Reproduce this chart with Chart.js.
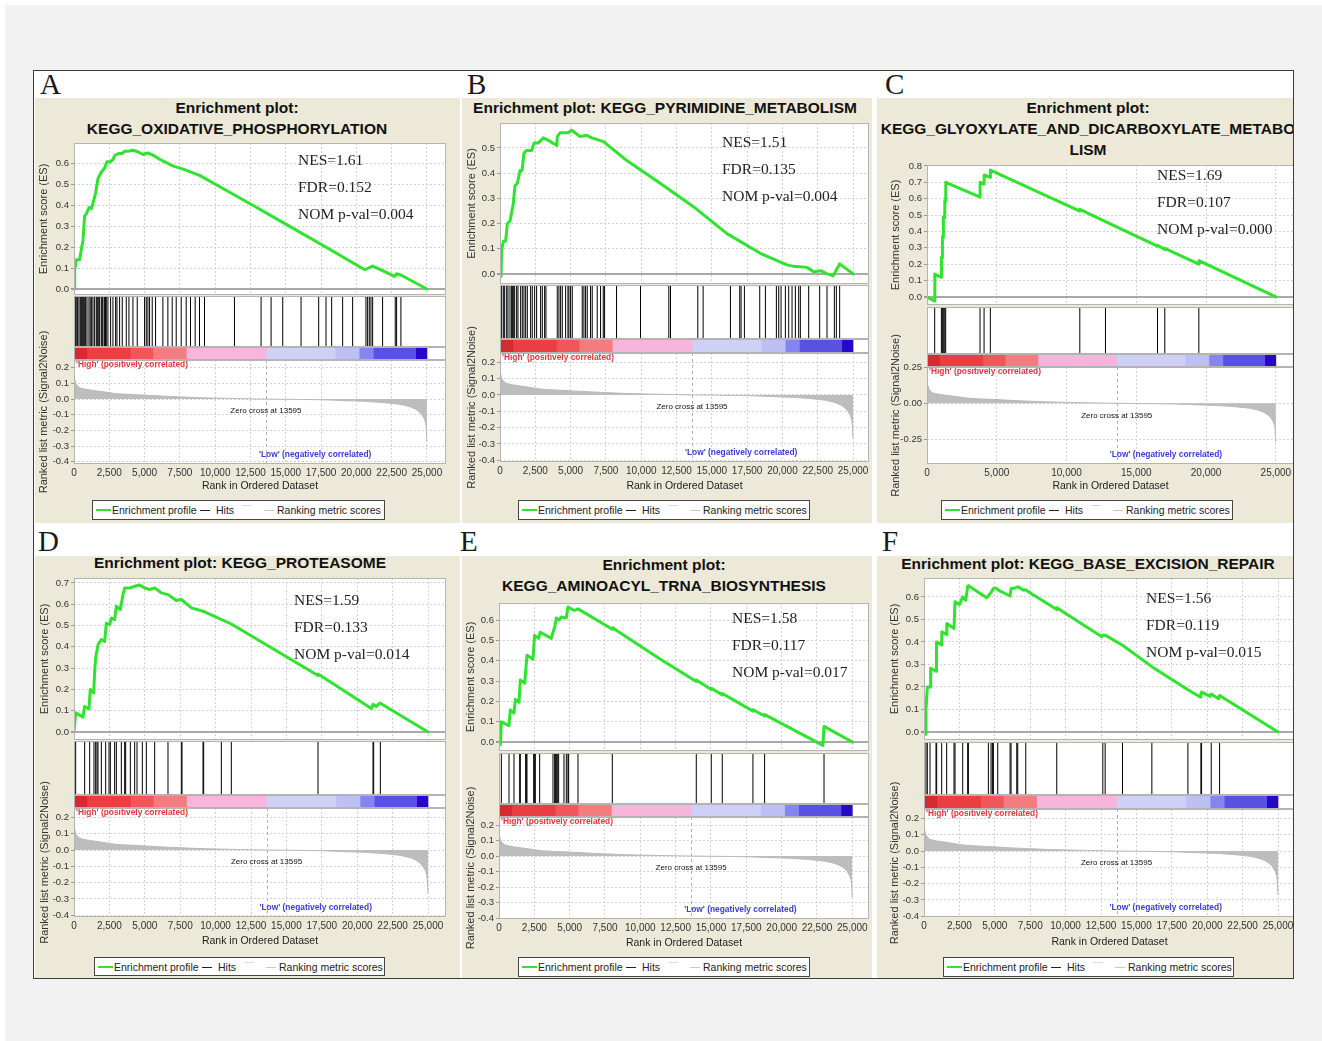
<!DOCTYPE html>
<html>
<head>
<meta charset="utf-8">
<title>GSEA enrichment plots</title>
<script src="https://cdn.jsdelivr.net/npm/chart.js@4.4.1/dist/chart.umd.min.js"></script>
<style>
  html, body { margin: 0; padding: 0; }
  body { width: 1322px; height: 1041px; position: relative; overflow: hidden; background: #fff;
         font-family: "Liberation Sans", Arial, sans-serif; }
  #sheet { position: absolute; left: 5px; top: 5px; width: 1317px; height: 1036px; background: #f2f2f2; }
  #figure { position: absolute; left: 33px; top: 70px; width: 1259px; height: 907px; border: 1px solid #3c3c3c; background: #fff; }
  .letter { position: absolute; font-family: "Liberation Serif", "Times New Roman", serif; font-size: 29px; line-height: 29px; color: #1a1a1a; }
  .panel { position: absolute; background: #ece9d8; overflow: hidden; }
  .panel canvas { position: absolute; }
  .ptitle { position: absolute; transform: translateX(-50%); white-space: nowrap; font-weight: bold; font-size: 15.5px; line-height: 21px; color: #111; }
  .stat { position: absolute; white-space: nowrap; font-family: "Liberation Serif", "Times New Roman", serif; font-size: 15.5px; line-height: 18px; color: #222; }
  .legend { position: absolute; box-sizing: border-box; border: 1px solid #444; background: #fff; font-size: 10.5px; color: #222; }
  .legend span { position: absolute; top: 50%; transform: translateY(-50%); white-space: nowrap; line-height: 12px; }
  .legend i { position: absolute; top: 50%; display: block; }
</style>
</head>
<body>
<div id="sheet"></div>
<div id="figure"></div>
<script>
// ---- data ----

// ranked list metric (the same ranked list in every panel)
const metricRank  = [0, 50, 165, 400, 870, 1820, 3000, 4170, 6530, 8890, 11250, 13595, 17380, 19500, 20680, 21860, 23040, 23750, 24220, 24570, 24800, 24920, 25000];
const metricValue = [0.154, 0.127, 0.095, 0.073, 0.062, 0.05, 0.035, 0.029, 0.018, 0.009, 0.004, 0, -0.004, -0.011, -0.015, -0.022, -0.033, -0.048, -0.066, -0.092, -0.125, -0.158, -0.268];
const zeroCross = 13595;

// colour bar boundaries (ranks)
const barEdges = [0, 900, 4000, 5600, 7950, 13595, 18500, 20200, 21200, 24200, 25000];

// tick labels
const xTicks2500 = [0, 2500, 5000, 7500, 10000, 12500, 15000, 17500, 20000, 22500, 25000];
const xTicks5000 = [0, 5000, 10000, 15000, 20000, 25000];
const esTicks05 = [0, 0.1, 0.2, 0.3, 0.4, 0.5];
const esTicks06 = [0, 0.1, 0.2, 0.3, 0.4, 0.5, 0.6];
const esTicks07 = [0, 0.1, 0.2, 0.3, 0.4, 0.5, 0.6, 0.7];
const esTicks08 = [0, 0.1, 0.2, 0.3, 0.4, 0.5, 0.6, 0.7, 0.8];
const metricTicks = [0.2, 0.1, 0, -0.1, -0.2, -0.3, -0.4];
const metricTicksC = [0.25, 0, -0.25];

// A - KEGG_OXIDATIVE_PHOSPHORYLATION
const esRankA  = [0, 47, 165, 400, 520, 640, 750, 870, 1060, 1230, 1340, 1530, 1700, 1930, 2170, 2330, 2570, 2760, 2880, 3180, 3420, 3580, 3940, 4170, 4530, 4880, 5230, 5590, 6060, 7000, 7830, 8890, 10080, 12690, 15280, 17860, 20600, 21150, 21860, 22700, 22850, 23150, 25000];
const esScoreA = [0, 0.09, 0.14, 0.14, 0.19, 0.235, 0.35, 0.36, 0.39, 0.385, 0.41, 0.46, 0.53, 0.56, 0.58, 0.61, 0.61, 0.62, 0.64, 0.65, 0.65, 0.66, 0.662, 0.665, 0.658, 0.645, 0.652, 0.642, 0.622, 0.59, 0.572, 0.545, 0.5, 0.4, 0.3, 0.2, 0.092, 0.11, 0.088, 0.06, 0.073, 0.067, 0];
const hitsA = [118, 200, 260, 354, 448, 520, 590, 684, 760, 825, 920, 1061, 1150, 1250, 1344, 1462, 1580, 1650, 1721, 1816, 1934, 2000, 2052, 2169, 2230, 2287, 2405, 2594, 2759, 2948, 3042, 3231, 3419, 3702, 3891, 4174, 4480, 4999, 5117, 5235, 5353, 5541, 5777, 6296, 6650, 6957, 7240, 7593, 7947, 8253, 8583, 8890, 9244, 11366, 13252, 13960, 14785, 16082, 17332, 17850, 18251, 19029, 19737, 20680, 20798, 20916, 21034, 21152, 21859, 22755, 22850, 23156];

// B - KEGG_PYRIMIDINE_METABOLISM
const esRankB  = [0, 70, 118, 236, 400, 520, 710, 945, 1060, 1230, 1420, 1560, 1700, 1890, 2245, 2410, 2720, 3070, 3430, 4020, 4060, 4250, 4840, 5080, 5320, 5670, 6140, 6500, 7330, 8980, 11340, 13700, 16070, 18430, 20320, 20800, 21740, 22210, 22690, 23160, 23580, 23750, 24050, 25000];
const esScoreB = [0, -0.01, 0.095, 0.13, 0.13, 0.2, 0.21, 0.28, 0.35, 0.36, 0.41, 0.41, 0.48, 0.49, 0.49, 0.52, 0.52, 0.54, 0.53, 0.51, 0.545, 0.56, 0.56, 0.57, 0.56, 0.545, 0.55, 0.54, 0.525, 0.45, 0.36, 0.267, 0.16, 0.082, 0.036, 0.03, 0.026, 0.009, 0.013, 0, -0.008, 0.009, 0.04, 0];
const hitsB = [118, 236, 330, 472, 566, 708, 825, 872, 943, 1038, 1179, 1273, 1462, 1580, 1698, 1816, 1934, 2169, 2287, 2452, 2594, 2877, 2995, 3160, 3254, 4055, 4174, 4292, 4410, 4646, 4811, 4881, 5000, 5117, 5824, 5942, 6060, 6178, 6414, 6532, 6886, 7122, 7311, 7405, 8253, 9951, 11955, 12073, 14007, 14384, 16318, 16978, 17072, 17308, 18393, 18794, 19572, 19737, 19902, 20209, 20445, 20680, 20916, 21152, 21270, 21859, 22637, 23156, 23675, 23817, 24053];

// C - KEGG_GLYOXYLATE_AND_DICARBOXYLATE_METABOLISM
const esRankC  = [0, 550, 560, 1030, 1035, 1100, 1105, 1170, 1175, 1270, 1275, 1340, 1345, 3800, 3805, 4090, 4095, 4540, 4545, 10950, 10955, 12790, 16520, 16525, 17040, 17045, 19480, 19485, 25000];
const esScoreC = [0, -0.025, 0.14, 0.12, 0.245, 0.24, 0.37, 0.365, 0.49, 0.485, 0.59, 0.585, 0.70, 0.61, 0.70, 0.69, 0.745, 0.73, 0.775, 0.525, 0.535, 0.46, 0.31, 0.315, 0.29, 0.297, 0.2, 0.222, 0];
const hitsC = [550, 1030, 1100, 1170, 1270, 1340, 3800, 4090, 4540, 10950, 12790, 16520, 17040, 19480];

// D - KEGG_PROTEASOME
const esRankD  = [0, 118, 635, 750, 1060, 1150, 1390, 1460, 1530, 1700, 1930, 2170, 2280, 2520, 2640, 2870, 2990, 3270, 3460, 3580, 3930, 4280, 4640, 4990, 5340, 5700, 6170, 6640, 7230, 7580, 8290, 9110, 11111, 17231, 17240, 21000, 21120, 21350, 21600, 25000];
const esScoreD = [0, 0.09, 0.07, 0.12, 0.108, 0.2, 0.183, 0.285, 0.35, 0.41, 0.434, 0.425, 0.51, 0.505, 0.535, 0.528, 0.59, 0.575, 0.645, 0.676, 0.676, 0.684, 0.69, 0.676, 0.669, 0.676, 0.653, 0.645, 0.617, 0.622, 0.583, 0.567, 0.507, 0.265, 0.272, 0.11, 0.13, 0.12, 0.136, 0];
const hitsD = [118, 753, 1106, 1412, 1530, 1624, 1695, 1930, 2236, 2472, 2566, 2872, 2990, 3343, 3578, 3649, 3978, 4284, 4449, 4826, 5108, 5696, 6638, 7580, 7627, 9110, 9157, 10405, 11111, 17231, 21116, 21163, 21634];

// E - KEGG_AMINOACYL_TRNA_BIOSYNTHESIS
const esRankE  = [0, 95, 165, 707, 800, 1061, 1155, 1415, 1509, 1815, 1885, 1980, 2400, 2520, 2800, 2920, 3700, 3820, 3940, 4055, 4240, 4410, 4760, 4880, 5350, 5590, 8017, 8025, 11370, 13959, 13965, 15020, 15025, 15798, 15805, 17968, 17975, 18793, 18800, 22920, 22998, 25000];
const esScoreE = [0, -0.013, 0.1, 0.08, 0.158, 0.142, 0.21, 0.196, 0.305, 0.29, 0.346, 0.427, 0.408, 0.525, 0.51, 0.54, 0.51, 0.54, 0.566, 0.61, 0.6, 0.615, 0.61, 0.664, 0.647, 0.655, 0.555, 0.562, 0.41, 0.298, 0.305, 0.258, 0.265, 0.232, 0.239, 0.152, 0.159, 0.128, 0.135, -0.016, 0.077, 0];
const hitsE = [165, 707, 1061, 1462, 1509, 1886, 1933, 1980, 2452, 2523, 2570, 2877, 3820, 3938, 4009, 4055, 4126, 4220, 4598, 4763, 4881, 4929, 5588, 8017, 13959, 15020, 15798, 17968, 18793, 22998];

// F - KEGG_BASE_EXCISION_REPAIR
const esRankF  = [0, 118, 141, 236, 424, 470, 848, 870, 895, 1249, 1260, 1600, 1610, 2120, 2191, 2500, 2733, 2945, 3090, 3134, 4430, 4547, 4735, 4830, 4900, 5065, 5250, 6079, 6149, 6430, 6620, 7020, 7186, 7260, 9377, 9385, 9730, 12560, 12628, 12793, 14018, 16091, 18636, 19510, 19555, 19602, 20210, 20285, 20800, 20874, 25000];
const esScoreF = [0, -0.01, 0.103, 0.2, 0.2, 0.283, 0.27, 0.335, 0.4, 0.386, 0.445, 0.433, 0.482, 0.46, 0.578, 0.566, 0.6, 0.585, 0.647, 0.65, 0.596, 0.605, 0.62, 0.63, 0.638, 0.64, 0.63, 0.604, 0.637, 0.64, 0.645, 0.63, 0.632, 0.627, 0.544, 0.552, 0.537, 0.423, 0.43, 0.43, 0.385, 0.29, 0.187, 0.155, 0.17, 0.177, 0.158, 0.168, 0.147, 0.162, 0];
const hitsF = [141, 236, 424, 848, 895, 1249, 1602, 2120, 2191, 2733, 3086, 3134, 4547, 4735, 4830, 4900, 5207, 6079, 6149, 6550, 6620, 7186, 9377, 12628, 12793, 14018, 16091, 18636, 19555, 19602, 20285, 20874];

// ---- styles ----
const GREEN = '#2fe32f';
const barColors = ['#d52a32', '#ea3e42', '#ef575a', '#f47c7e', '#f8b5db', '#cfd0f5', '#bebff2', '#8585f1', '#5a50e4', '#2708c6'];
const FRAME = '#b4b4b4';
const GRID = '#d2d2d2';
const PAD = 14;

// layout of each panel (page pixels)
const panels = [
  { letter: 'A', letterAt: [40, 70], box: [35, 98, 460, 523],
    title: ['Enrichment plot:', 'KEGG_OXIDATIVE_PHOSPHORYLATION'], titleX: 237, titleY: 107,
    stats: ['NES=1.61', 'FDR=0.152', 'NOM p-val=0.004'], statsAt: [298, 160],
    axisLeft: 37, plotLeft: 74, plotRight: 446, xMax: 26350, xTicks: xTicks2500,
    esTop: 143, esBottom: 295, esMin: -0.029, esMax: 0.70, esTicks: esTicks06,
    hitsTop: 296, barTop: 347, metricTop: 360, metricBottom: 464, metricMin: -0.415, metricMax: 0.25, metricTicks: metricTicks, metricDec: 1,
    xLabelY: 486, legend: [92, 500, 385, 520],
    esRank: esRankA, esScore: esScoreA, hits: hitsA },
  { letter: 'B', letterAt: [467, 70], box: [462, 98, 872, 523],
    title: ['Enrichment plot: KEGG_PYRIMIDINE_METABOLISM'], titleX: 665, titleY: 107,
    stats: ['NES=1.51', 'FDR=0.135', 'NOM p-val=0.004'], statsAt: [722, 142],
    axisLeft: 465, plotLeft: 500, plotRight: 869, xMax: 26130, xTicks: xTicks2500,
    esTop: 123, esBottom: 284, esMin: -0.04, esMax: 0.599, esTicks: esTicks05,
    hitsTop: 285, barTop: 339, metricTop: 353, metricBottom: 462, metricMin: -0.41, metricMax: 0.256, metricTicks: metricTicks, metricDec: 1,
    xLabelY: 486, legend: [518, 500, 810, 520],
    esRank: esRankB, esScore: esScoreB, hits: hitsB },
  { letter: 'C', letterAt: [885, 70], box: [877, 98, 1293, 523],
    title: ['Enrichment plot:', 'KEGG_GLYOXYLATE_AND_DICARBOXYLATE_METABO', 'LISM'], titleX: 1088, titleY: 107,
    stats: ['NES=1.69', 'FDR=0.107', 'NOM p-val=0.000'], statsAt: [1157, 175],
    axisLeft: 889, plotLeft: 927, plotRight: 1294, xMax: 26300, xTicks: xTicks5000,
    esTop: 165, esBottom: 305, esMin: -0.049, esMax: 0.806, esTicks: esTicks08,
    hitsTop: 307, barTop: 354, metricTop: 367, metricBottom: 464, metricMin: -0.418, metricMax: 0.25, metricTicks: metricTicksC, metricDec: 2,
    xLabelY: 486, legend: [941, 500, 1233, 520],
    esRank: esRankC, esScore: esScoreC, hits: hitsC },
  { letter: 'D', letterAt: [38, 527], box: [35, 556, 460, 978],
    title: ['Enrichment plot: KEGG_PROTEASOME'], titleX: 240, titleY: 562,
    stats: ['NES=1.59', 'FDR=0.133', 'NOM p-val=0.014'], statsAt: [294, 600],
    axisLeft: 38, plotLeft: 74, plotRight: 446, xMax: 26270, xTicks: xTicks2500,
    esTop: 578, esBottom: 740, esMin: -0.0376, esMax: 0.723, esTicks: esTicks07,
    hitsTop: 741, barTop: 795, metricTop: 808, metricBottom: 917, metricMin: -0.411, metricMax: 0.258, metricTicks: metricTicks, metricDec: 1,
    xLabelY: 941, legend: [94, 957, 385, 976],
    esRank: esRankD, esScore: esScoreD, hits: hitsD },
  { letter: 'E', letterAt: [460, 527], box: [462, 556, 872, 978],
    title: ['Enrichment plot:', 'KEGG_AMINOACYL_TRNA_BIOSYNTHESIS'], titleX: 664, titleY: 564,
    stats: ['NES=1.58', 'FDR=0.117', 'NOM p-val=0.017'], statsAt: [732, 618],
    axisLeft: 464, plotLeft: 499, plotRight: 869, xMax: 26180, xTicks: xTicks2500,
    esTop: 603, esBottom: 751, esMin: -0.044, esMax: 0.684, esTicks: esTicks06,
    hitsTop: 753, barTop: 804, metricTop: 817, metricBottom: 919, metricMin: -0.406, metricMax: 0.252, metricTicks: metricTicks, metricDec: 1,
    xLabelY: 943, legend: [518, 957, 810, 977],
    esRank: esRankE, esScore: esScoreE, hits: hitsE },
  { letter: 'F', letterAt: [882, 527], box: [877, 556, 1293, 978],
    title: ['Enrichment plot: KEGG_BASE_EXCISION_REPAIR'], titleX: 1088, titleY: 563,
    stats: ['NES=1.56', 'FDR=0.119', 'NOM p-val=0.015'], statsAt: [1146, 598],
    axisLeft: 888, plotLeft: 924, plotRight: 1295, xMax: 26200, xTicks: xTicks2500,
    esTop: 578, esBottom: 740, esMin: -0.036, esMax: 0.684, esTicks: esTicks06,
    hitsTop: 742, barTop: 795, metricTop: 809, metricBottom: 917, metricMin: -0.405, metricMax: 0.258, metricTicks: metricTicks, metricDec: 1,
    xLabelY: 942, legend: [943, 957, 1234, 977],
    esRank: esRankF, esScore: esScoreF, hits: hitsF }
];

// ---- chart.js setup ----
Chart.defaults.animation = false;
Chart.defaults.font.family = '"Liberation Sans", Arial, sans-serif';
Chart.defaults.plugins.legend.display = false;
Chart.defaults.plugins.tooltip.enabled = false;

// white plot background + thin grey frame round every chart area
const plotFrame = {
  id: 'plotFrame',
  beforeDraw(chart) {
    const a = chart.chartArea, ctx = chart.ctx;
    ctx.save();
    ctx.fillStyle = '#fff';
    ctx.fillRect(a.left, a.top, a.right - a.left, a.bottom - a.top);
    ctx.restore();
  },
  afterDraw(chart) {
    const a = chart.chartArea, ctx = chart.ctx;
    ctx.save();
    ctx.strokeStyle = FRAME;
    ctx.lineWidth = 1;
    ctx.strokeRect(Math.round(a.left) + 0.5, Math.round(a.top) + 0.5, Math.round(a.right - a.left) - 1, Math.round(a.bottom - a.top) - 1);
    ctx.restore();
  }
};
Chart.register(plotFrame);

function makeCanvas(pane, p, left, top, w, h) {
  const c = document.createElement('canvas');
  c.width = w;
  c.height = h;
  c.style.left = (left - p.box[0]) + 'px';
  c.style.top = (top - p.box[1]) + 'px';
  c.style.width = w + 'px';
  c.style.height = h + 'px';
  pane.appendChild(c);
  return c;
}

function isZero(c) {
  return c.tick && Math.abs(c.tick.value) < 1e-9;
}

// shared x axis (rank)
function rankAxis(p, showLabels) {
  return {
    type: 'linear', min: 0, max: p.xMax,
    afterBuildTicks: s => { s.ticks = p.xTicks.map(v => ({ value: v })); },
    afterFit: s => { s.height = showLabels ? (p.xLabelY + 6.3 - p.metricBottom) : 0; },
    grid: { color: GRID, drawTicks: false },
    border: { display: false, dash: [2, 2] },
    ticks: { display: showLabels, autoSkip: false, maxRotation: 0, minRotation: 0, padding: 3,
             font: { size: 10 }, color: '#333', callback: v => v.toLocaleString('en-US') },
    title: { display: showLabels, text: 'Rank in Ordered Dataset', font: { size: 10.5 }, color: '#222', padding: 0 }
  };
}

function valueAxis(p, min, max, ticks, dec, label) {
  const es = label.startsWith('Enrich');
  return {
    min: min, max: max,
    afterBuildTicks: s => { s.ticks = ticks.map(v => ({ value: v })); },
    afterFit: s => { s.width = p.plotLeft - p.axisLeft; },
    grid: { color: c => isZero(c) && es ? '#a9a9a9' : GRID,
            lineWidth: c => isZero(c) && es ? 2 : 1,
            drawTicks: true, tickLength: 3, tickColor: '#999' },
    border: { display: false, dash: c => isZero(c) && es ? [] : [2, 2] },
    ticks: { padding: 2, font: { size: 9.5 }, color: '#333', callback: v => v.toFixed(dec) },
    title: { display: true, text: label, font: { size: 11 }, color: '#333', padding: 0 }
  };
}

// enrichment score curve
function drawEs(pane, p) {
  const top = p.esTop - PAD;
  const w = p.plotRight - p.axisLeft + PAD, h = p.esBottom - p.esTop + 2 * PAD;
  const c = makeCanvas(pane, p, p.axisLeft, top, w, h);
  new Chart(c, {
    type: 'line',
    data: { datasets: [{
      data: p.esRank.map((r, i) => ({ x: r, y: p.esScore[i] })),
      borderColor: GREEN, borderWidth: 3, pointRadius: 0, tension: 0,
      borderJoinStyle: 'round', borderCapStyle: 'round'
    }] },
    options: {
      responsive: false, events: [],
      layout: { autoPadding: false, padding: { left: 0, right: PAD, top: PAD, bottom: PAD } },
      scales: {
        x: rankAxis(p, false),
        y: valueAxis(p, p.esMin, p.esMax, p.esTicks, 1, 'Enrichment score (ES)')
      }
    }
  });
}

// hit positions as short vertical strokes
function drawHits(pane, p) {
  const w = p.plotRight - p.plotLeft + 2 * PAD, h = p.barTop - p.hitsTop + 2 * PAD;
  const c = makeCanvas(pane, p, p.plotLeft - PAD, p.hitsTop - PAD, w, h);
  new Chart(c, {
    type: 'scatter',
    data: { datasets: [{
      data: p.hits.map(r => ({ x: r, y: 0.5 })),
      pointStyle: 'line', pointRotation: 90, pointRadius: (p.barTop - p.hitsTop) / 2 - 1,
      pointBorderColor: '#000', pointBorderWidth: 1, clip: false
    }] },
    options: {
      responsive: false, events: [],
      layout: { autoPadding: false, padding: PAD },
      scales: {
        x: { type: 'linear', min: 0, max: p.xMax, display: false },
        y: { min: 0, max: 1, display: false }
      }
    }
  });
}

// red-to-blue rank colour bar
function drawBar(pane, p) {
  const w = p.plotRight - p.plotLeft + 2 * PAD, h = p.metricTop - p.barTop + 2 * PAD;
  const c = makeCanvas(pane, p, p.plotLeft - PAD, p.barTop - PAD, w, h);
  const sets = barColors.map((col, i) => ({
    data: [[barEdges[i], barEdges[i + 1]]],
    backgroundColor: col, borderWidth: 0, grouped: false,
    barPercentage: 1, categoryPercentage: 1
  }));
  new Chart(c, {
    type: 'bar',
    data: { labels: ['rank'], datasets: sets },
    options: {
      indexAxis: 'y', responsive: false, events: [],
      layout: { autoPadding: false, padding: PAD },
      scales: {
        x: { type: 'linear', min: 0, max: p.xMax, display: false },
        y: { display: false }
      }
    }
  });
}

// notes inside the ranked list plot
function metricNotes() {
  return {
    id: 'metricNotes',
    afterDatasetsDraw(chart) {
      const { ctx, chartArea: a, scales } = chart;
      const zx = scales.x.getPixelForValue(zeroCross);
      const zy = scales.y.getPixelForValue(0);
      ctx.save();
      ctx.strokeStyle = '#b0b0b0';
      ctx.lineWidth = 1;
      ctx.setLineDash([3, 3]);
      ctx.beginPath();
      ctx.moveTo(Math.round(zx) + 0.5, a.top);
      ctx.lineTo(Math.round(zx) + 0.5, a.bottom);
      ctx.stroke();
      ctx.setLineDash([]);
      ctx.textBaseline = 'middle';
      ctx.font = 'bold 8.4px "Liberation Sans", Arial';
      ctx.fillStyle = '#e0353d';
      ctx.textAlign = 'left';
      ctx.fillText("'High' (positively correlated)", a.left + 2, a.top + 5);
      ctx.fillStyle = '#3b3bd6';
      ctx.fillText("'Low' (negatively correlated)", zx - 7, a.bottom - 9);
      ctx.font = '8px "Liberation Sans", Arial';
      ctx.fillStyle = '#111';
      ctx.textAlign = 'center';
      ctx.fillText('Zero cross at ' + zeroCross, zx, zy + 12);
      ctx.restore();
    }
  };
}

// ranked list metric (filled grey area)
function drawMetric(pane, p) {
  const top = p.metricTop - 75;
  const bottom = p.xLabelY + 6.3 + 6;
  const w = p.plotRight - p.axisLeft + PAD, h = Math.round(bottom - top);
  const c = makeCanvas(pane, p, p.axisLeft, top, w, h);
  new Chart(c, {
    type: 'line',
    data: { datasets: [{
      data: metricRank.map((r, i) => ({ x: r, y: metricValue[i] })),
      borderColor: '#b9b9b9', borderWidth: 1, backgroundColor: '#bdbdbd',
      fill: 'origin', pointRadius: 0, tension: 0.2
    }] },
    options: {
      responsive: false, events: [],
      layout: { autoPadding: false, padding: { left: 0, right: PAD, top: p.metricTop - top, bottom: h - (p.xLabelY + 6.3 - top) } },
      scales: {
        x: rankAxis(p, true),
        y: valueAxis(p, p.metricMin, p.metricMax, p.metricTicks, p.metricDec, 'Ranked list metric (Signal2Noise)')
      }
    },
    plugins: [metricNotes()]
  });
}

function addDiv(parent, cls, left, top, text) {
  const d = document.createElement('div');
  d.className = cls;
  d.style.left = left + 'px';
  d.style.top = top + 'px';
  if (text !== undefined) d.textContent = text;
  parent.appendChild(d);
  return d;
}

function drawLegend(pane, p) {
  const [x0, y0, x1, y1] = p.legend;
  const box = addDiv(pane, 'legend', x0 - p.box[0], y0 - p.box[1]);
  box.style.width = (x1 - x0) + 'px';
  box.style.height = (y1 - y0) + 'px';
  box.innerHTML =
    '<i style="left:3px;width:15px;height:2px;margin-top:-1px;background:' + GREEN + '"></i>' +
    '<span style="left:19px">Enrichment profile</span>' +
    '<i style="left:107px;width:10px;height:1px;background:#222"></i>' +
    '<span style="left:123px">Hits</span>' +
    '<i style="left:149px;width:10px;height:1px;margin-top:-5px;background:#dadada"></i>' +
    '<i style="left:171px;width:10px;height:1px;background:#c8c8c8"></i>' +
    '<span style="left:184px">Ranking metric scores</span>';
}

// ---- build the page ----
panels.forEach(function(p) {
  addDiv(document.body, 'letter', p.letterAt[0], p.letterAt[1], p.letter);

  const pane = document.createElement('div');
  pane.className = 'panel';
  pane.style.left = p.box[0] + 'px';
  pane.style.top = p.box[1] + 'px';
  pane.style.width = (p.box[2] - p.box[0]) + 'px';
  pane.style.height = (p.box[3] - p.box[1]) + 'px';
  document.body.appendChild(pane);

  p.title.forEach(function(line, i) {
    addDiv(pane, 'ptitle', p.titleX - p.box[0], p.titleY + 21 * i - 10.5 - p.box[1], line);
  });

  drawMetric(pane, p);
  drawEs(pane, p);
  drawHits(pane, p);
  drawBar(pane, p);

  p.stats.forEach(function(s, i) {
    addDiv(pane, 'stat', p.statsAt[0] - p.box[0], p.statsAt[1] + 27 * i - 9 - p.box[1], s);
  });

  drawLegend(pane, p);
});
</script>
</body>
</html>
